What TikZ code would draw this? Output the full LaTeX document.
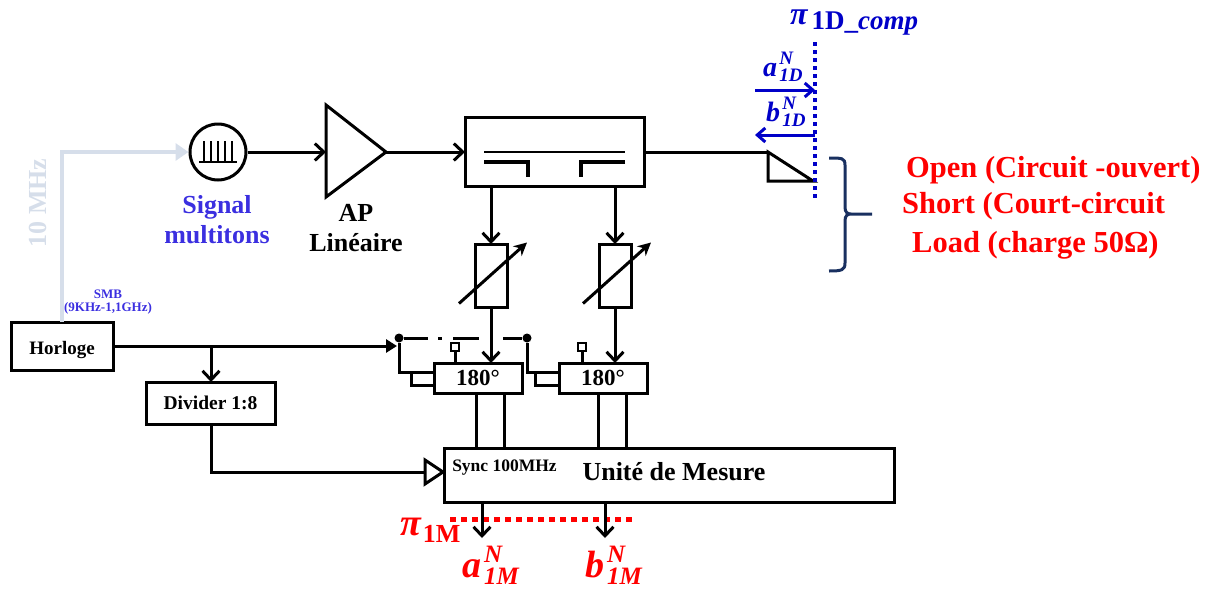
\documentclass[tikz,border=0pt]{standalone}
\usepackage{fontspec}
\setmainfont{Liberation Serif}
\usetikzlibrary{arrows.meta, positioning, calc}
\definecolor{mbleu}{RGB}{0,0,200}
\definecolor{mviolet}{RGB}{59,47,224}
\definecolor{mgris}{RGB}{214,222,234}
\definecolor{mnavy}{RGB}{25,48,96}
\newcommand{\taille}[1]{\fontsize{#1}{#1}\selectfont}
\newcommand{\onde}[5]{\bfseries\itshape\taille{#4}#1\taille{#5}\hspace{0.12em}\rlap{\raisebox{0.6em}{#2}}\raisebox{-0.3em}{#3}}
\tikzset{
  bloc/.style={draw, line width=3pt, fill=white, inner sep=0pt, outer sep=0pt, font=\bfseries},
  trait/.style={line width=3pt},
  fleche/.style={line width=3pt, -{Straight Barb[length=9pt,width=17pt,line width=3pt]}},
  reglage/.style={line width=3pt, -{Stealth[length=13pt,width=13pt]}},
  point/.style={circle, fill=black, inner sep=0pt, minimum size=9pt},
  carre/.style={draw, line width=2.2pt, fill=white, inner sep=0pt, minimum size=8pt},
  rouge/.style={anchor=west, inner sep=0pt, text=red, font=\bfseries\taille{30.5}},
  lettre/.style={anchor=base west, inner sep=0pt}
}
\begin{document}
\begin{tikzpicture}[x=1pt,y=-1pt]
  \useasboundingbox (0,0) rectangle (1211,592);

  \node[bloc,font=\bfseries\taille{19}, text depth=0pt, minimum width=102, minimum height=48] (horloge) at (62,346) {\raisebox{-3pt}{Horloge}};
  \node[bloc,font=\bfseries\taille{19.5}, minimum width=129, minimum height=42] (divider) at (210.5,403) {Divider 1:8};
  \node[draw,circle,line width=3pt,inner sep=0pt,minimum size=56] (source) at (218,152) {};
  \node[bloc,minimum width=179, minimum height=69] (coupleur) at (554.5,151.5) {};
  \node[bloc,minimum width=32, minimum height=63] (attA) at (491,275.5) {};
  \node[bloc,minimum width=32, minimum height=63] (attB) at (615,275.5) {};
  \node[bloc,font=\bfseries\taille{23}, minimum width=88, minimum height=30] (phaseA) at (478,378) {180°};
  \node[bloc,font=\bfseries\taille{23}, minimum width=88, minimum height=30] (phaseB) at (603,378) {180°};
  \node[bloc,minimum width=450, minimum height=54] (mesure) at (669,475) {};
  \node[font=\bfseries\taille{26}] (mesuretxt) at (674,472) {Unité de Mesure};
  \node[font=\bfseries\taille{17.5}] (sync) at (504.5,468) {Sync 100MHz};

  \coordinate (apin) at (326,152);
  \coordinate (apout) at (386,152);
  \coordinate (syncin) at (425,472);
  \coordinate (chargein) at (768,152);
  \coordinate (horlogeh) at (62,152);
  \coordinate (noeud) at (211,346);
  \node[point] (swA) at (399,338) {};
  \node[point] (swB) at (527,338) {};
  \coordinate (swin) at (397,346);

  \draw[line width=3.5pt, mgris, -{Triangle[length=13pt,width=17pt]}] (horloge.north) -- (horlogeh) -- (source.west);
  \node[rotate=90,text=mgris,font=\bfseries\taille{26}] (dixmhz) at (38,203) {10 MHz};
  \node[text=mviolet,font=\bfseries\taille{13},align=center,inner sep=0pt] (smb) at (108,302) {SMB\\[-0.5pt](9KHz-1,1GHz)};
  \node[text=mviolet,font=\bfseries\taille{26},align=center,inner sep=0pt] (signal) at (217,220) {Signal\\[4pt]multitons};
  \node[font=\bfseries\taille{26},align=center,inner sep=0pt] (ap) at (356,228) {AP\\[4pt]Linéaire};

  \foreach \x in {204,211,218,225,232}
    \draw[line width=2pt] (\x,141) -- (\x,162);
  \draw[line width=2pt] (199,162) -- (237,162);

  \draw[fleche] (source.east) -- (apin);
  \draw[trait, line join=miter] (apin |- 0,105) -- (apout) -- (apin |- 0,197) -- cycle;
  \draw[fleche] (apout) -- (coupleur.west |- apout);
  \draw[trait] (coupleur.east |- chargein) -- (chargein);

  \draw[line width=2.8pt] (484,152) -- (625,152);
  \draw[line width=3.8pt] (484,162) -- (528,162) -- (528,177);
  \draw[line width=3.8pt] (625,162) -- (581,162) -- (581,177);

  \foreach \n in {attA,attB}{
    \draw[fleche] (coupleur.south -| \n.north) -- (\n.north);
    \draw[reglage] ([shift={(-32,28)}]\n.center) -- ([shift={(36,-33)}]\n.center);
  }
  \draw[fleche] (attA.south) -- (attA.south |- phaseA.north);
  \draw[fleche] (attB.south) -- (attB.south |- phaseB.north);

  \draw[trait, -{Triangle[length=11pt,width=13pt]}] (horloge.east) -- (noeud) -- (swin);
  \draw[fleche] (noeud) -- (divider.north -| noeud);
  \draw[trait] (divider.south -| noeud) |- (syncin);
  \draw[trait, fill=white] (syncin |- 0,460) -- (443,472) -- (syncin |- 0,484) -- cycle;

  \draw[trait] (swA) -- (428,338);
  \draw[trait] (438,338) -- (442,338);
  \draw[trait] (453,338) -- (479,338);
  \draw[trait] (503,338) -- (swB);

  \draw[trait] (swA) |- ([yshift=6pt]phaseA.west);
  \draw[trait] ([yshift=-7pt]phaseA.west) -| (411,372);
  \draw[trait] (swB) |- ([yshift=6pt]phaseB.west);
  \draw[trait] ([yshift=-7pt]phaseB.west) -| (535,372);

  \node[carre] (ctrlA) at (455,347) {};
  \node[carre] (ctrlB) at (582,347) {};
  \draw[trait] (ctrlA.south) -- (ctrlA.south |- phaseA.north);
  \draw[trait] (ctrlB.south) -- (ctrlB.south |- phaseB.north);

  \foreach \s in {-2,26}{
    \draw[trait] ([xshift=\s pt]phaseA.south) -- ([xshift=\s pt]phaseA.south |- mesure.north);
    \draw[trait] ([xshift=\s pt-3pt]phaseB.south) -- ([xshift=\s pt-3pt]phaseB.south |- mesure.north);
  }

  \draw[line width=5pt, red, dash pattern=on 6pt off 5pt] (450,519) -- (633,519);
  \coordinate (sortieA) at (482,538);
  \coordinate (sortieB) at (605,538);
  \draw[fleche] (mesure.south -| sortieA) -- (sortieA);
  \draw[fleche] (mesure.south -| sortieB) -- (sortieB);

  \node[lettre,text=red,font=\bfseries] (piM) at (400,535) {\taille{38}\itshape π\upshape\taille{26}\hspace{2pt}\raisebox{-7pt}{1M}};
  \node[lettre,text=red] (aM) at (462,577) {\onde{a}{N}{1M}{38}{25}};
  \node[lettre,text=red] (bM) at (585,577) {\onde{b}{N}{1M}{38}{25}};

  \draw[line width=3pt] (chargein) -- (chargein |- 0,181) -- (813,181) -- cycle;
  \draw[line width=4pt, mbleu, dash pattern=on 4pt off 4pt] (815,42) -- (815,201);
  \coordinate (plan) at (815,90);
  \coordinate (planb) at (815,135);
  \draw[line width=3pt, mbleu, -{Straight Barb[length=8pt,width=14pt,line width=3pt]}] (755,90) -- (plan);
  \draw[line width=3pt, mbleu, -{Straight Barb[length=8pt,width=14pt,line width=3pt]}] (planb) -- (755,135);
  \node[lettre,text=mbleu,font=\bfseries] (piD) at (790,24) {\taille{32}\itshape π\upshape\taille{27}\hspace{4pt}\raisebox{-5pt}{1D\_\itshape comp}};
  \node[lettre,text=mbleu] (aD) at (763,76) {\onde{a}{N}{1D}{28}{19}};
  \node[lettre,text=mbleu] (bD) at (766,121) {\onde{b}{N}{1D}{28}{19}};

  \draw[line width=3pt, mnavy] (829,158) .. controls (842,158) and (845,158) .. (845,165) -- (845,207)
    .. controls (845,212) and (847,214) .. (851,214) -- (872,214) -- (851,214)
    .. controls (847,214) and (845,216) .. (845,221) -- (845,263)
    .. controls (845,270) and (842,271) .. (829,271);

  \node[rouge] (open) at (906,170) {Open (Circuit -ouvert)};
  \node[rouge] (short) at (902,206) {Short (Court-circuit};
  \node[rouge] (load) at (912,245) {Load (charge 50Ω)};
\end{tikzpicture}
\end{document}
